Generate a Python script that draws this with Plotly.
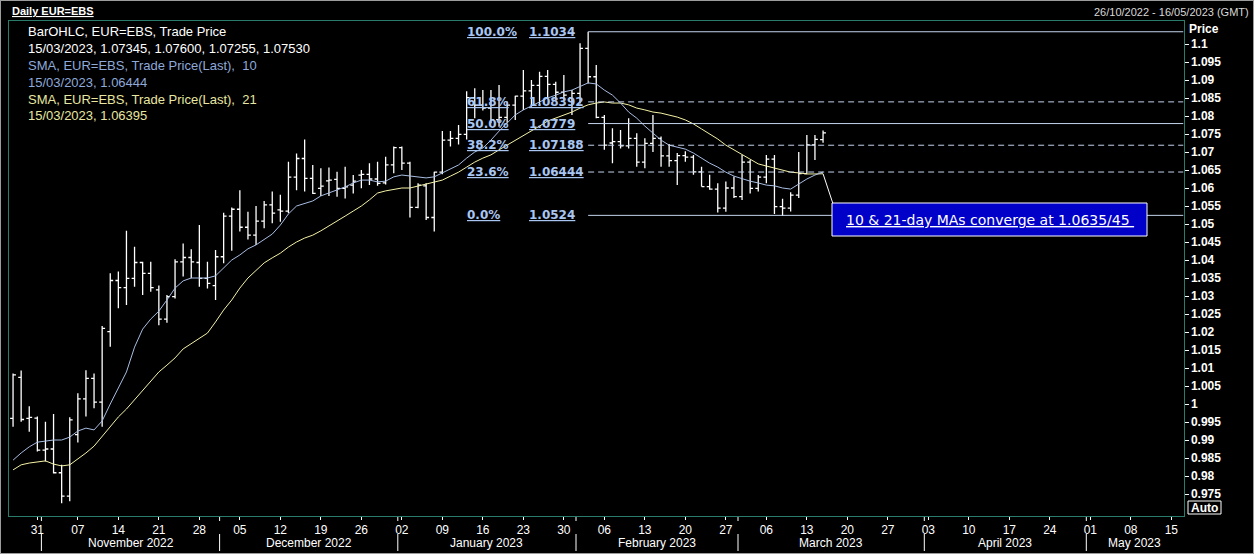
import plotly.graph_objects as go
import pandas as pd

W, H = 1254, 554


def px(x):
    return x / W


def py(y):
    return 1 - y / H


# ---------------- data ----------------
axis_days = pd.bdate_range("2022-10-26", "2023-05-16")   # trading-day axis

open_ = [
    0.9960, 1.0074, 0.9960,
    0.9961, 0.9872, 0.9875, 0.9809, 0.9744,
    0.9915, 1.0014, 1.0071, 1.0005, 1.0201,
    1.0343, 1.0323, 1.0349, 1.0393, 1.0363,
    1.0317, 1.0236, 1.0298, 1.0395, 1.0407,
    1.0393, 1.0349, 1.0329, 1.0409, 1.0522,
    1.0541, 1.0491, 1.0469, 1.0508, 1.0553,
    1.0539, 1.0536, 1.0630, 1.0682, 1.0627,
    1.0599, 1.0620, 1.0624, 1.0599, 1.0608,
    1.0636, 1.0638, 1.0625, 1.0614, 1.0664,
    1.0712, 1.0669, 1.0546, 1.0606, 1.0518,
    1.0644, 1.0733, 1.0738, 1.0749, 1.0851,
    1.0830, 1.0822, 1.0790, 1.0796, 1.0830,
    1.0855, 1.0870, 1.0885, 1.0910, 1.0888,
    1.0866, 1.0850, 1.0863, 1.0988, 1.0909,
    1.0796, 1.0725, 1.0729, 1.0717, 1.0738,
    1.0672, 1.0724, 1.0738, 1.0689, 1.0676,
    1.0690, 1.0686, 1.0645, 1.0604, 1.0597,
    1.0544, 1.0600, 1.0576, 1.0672, 1.0599,
    1.0630, 1.0680, 1.0548, 1.0544, 1.0580,
    1.0640, 1.0720, 1.07345,
]
high = [
    1.0085, 1.0093, 0.9994,
    0.9965, 0.9951, 0.9972, 0.9831, 0.9963,
    1.0030, 1.0094, 1.0085, 1.0217, 1.0363,
    1.0368, 1.0481, 1.0437, 1.0395, 1.0395,
    1.0329, 1.0303, 1.0402, 1.0446, 1.0430,
    1.0497, 1.0395, 1.0428, 1.0531, 1.0546,
    1.0594, 1.0534, 1.0550, 1.0564, 1.0590,
    1.0581, 1.0673, 1.0696, 1.0735, 1.0664,
    1.0655, 1.0657, 1.0645, 1.0659, 1.0636,
    1.0650, 1.0669, 1.0673, 1.0687, 1.0715,
    1.0715, 1.0673, 1.0613, 1.0613, 1.0645,
    1.0758, 1.0758, 1.0775, 1.0869, 1.0877,
    1.0872, 1.0872, 1.0886, 1.0840, 1.0856,
    1.0928, 1.0900, 1.0923, 1.0928, 1.0895,
    1.0914, 1.0872, 1.1002, 1.1034, 1.0942,
    1.0803, 1.0766, 1.0761, 1.0794, 1.0752,
    1.0738, 1.0803, 1.0743, 1.0722, 1.0697,
    1.0702, 1.0692, 1.0659, 1.0637, 1.0613,
    1.0618, 1.0632, 1.0692, 1.0678, 1.0636,
    1.0692, 1.0692, 1.0570, 1.0588, 1.0700,
    1.0747, 1.0747, 1.07600,
]
low = [
    0.9937, 0.9951, 0.9923,
    0.9868, 0.9840, 0.9807, 0.9724, 0.9730,
    0.9893, 0.9965, 0.9988, 0.9937, 1.0159,
    1.0266, 1.0275, 1.0326, 1.0303, 1.0312,
    1.0219, 1.0226, 1.0293, 1.0354, 1.0349,
    1.0326, 1.0321, 1.0289, 1.0391, 1.0426,
    1.0479, 1.0457, 1.0442, 1.0488, 1.0502,
    1.0506, 1.0530, 1.0594, 1.0590, 1.0583,
    1.0578, 1.0578, 1.0576, 1.0571, 1.0585,
    1.0599, 1.0608, 1.0606, 1.0610, 1.0641,
    1.0650, 1.0518, 1.0544, 1.0511, 1.0479,
    1.0638, 1.0715, 1.0721, 1.0735, 1.0794,
    1.0815, 1.0780, 1.0770, 1.0780, 1.0789,
    1.0817, 1.0826, 1.0831, 1.0849, 1.0845,
    1.0845, 1.0803, 1.0835, 1.0890, 1.0794,
    1.0706, 1.0669, 1.0710, 1.0710, 1.0659,
    1.0655, 1.0700, 1.0659, 1.0659, 1.0608,
    1.0673, 1.0637, 1.0604, 1.0595, 1.0532,
    1.0534, 1.0572, 1.0567, 1.0585, 1.0590,
    1.0613, 1.0528, 1.0522, 1.0535, 1.0572,
    1.0640, 1.0678, 1.07255,
]
close = [
    1.0081, 0.9957, 0.9963,
    0.9872, 0.9875, 0.9809, 0.9744, 0.9956,
    1.0014, 1.0071, 1.0005, 1.0210, 1.0343,
    1.0323, 1.0349, 1.0393, 1.0363, 1.0323,
    1.0236, 1.0298, 1.0395, 1.0407, 1.0395,
    1.0349, 1.0335, 1.0409, 1.0522, 1.0541,
    1.0491, 1.0469, 1.0508, 1.0553, 1.0530,
    1.0536, 1.0630, 1.0682, 1.0627, 1.0585,
    1.0605, 1.0622, 1.0599, 1.0603, 1.0619,
    1.0638, 1.0625, 1.0613, 1.0664, 1.0712,
    1.0669, 1.0546, 1.0608, 1.0518, 1.0644,
    1.0733, 1.0738, 1.0749, 1.0851, 1.0830,
    1.0822, 1.0790, 1.0796, 1.0830, 1.0855,
    1.0870, 1.0885, 1.0910, 1.0888, 1.0866,
    1.0858, 1.0863, 1.0988, 1.0909, 1.0796,
    1.0719, 1.0729, 1.0717, 1.0738, 1.0672,
    1.0724, 1.0738, 1.0689, 1.0676, 1.0690,
    1.0686, 1.0645, 1.0604, 1.0597, 1.0544,
    1.0600, 1.0576, 1.0672, 1.0599, 1.0630,
    1.0680, 1.0548, 1.0544, 1.0580, 1.0640,
    1.0720, 1.0735, 1.07530,
]
sma10 = [
    0.9844, 0.9864, 0.9881,
    0.9894, 0.9897, 0.9900, 0.9900, 0.9908,
    0.9925, 0.9933, 0.9928, 0.9953, 1.0000,
    1.0044, 1.0089, 1.0158, 1.0208, 1.0236,
    1.0258, 1.0289, 1.0322, 1.0342, 1.0350,
    1.0350, 1.0350, 1.0356, 1.0378, 1.0400,
    1.0414, 1.0431, 1.0442, 1.0456, 1.0472,
    1.0497, 1.0528, 1.0550, 1.0556, 1.0564,
    1.0578, 1.0586, 1.0594, 1.0603, 1.0614,
    1.0622, 1.0622, 1.0617, 1.0619, 1.0631,
    1.0636, 1.0633, 1.0631, 1.0628, 1.0631,
    1.0642, 1.0653, 1.0664, 1.0683, 1.0700,
    1.0711, 1.0733, 1.0758, 1.0781, 1.0803,
    1.0817, 1.0828, 1.0839, 1.0850, 1.0858,
    1.0867, 1.0872, 1.0881, 1.0892, 1.0889,
    1.0872, 1.0858, 1.0836, 1.0811, 1.0794,
    1.0772, 1.0753, 1.0733, 1.0719, 1.0714,
    1.0708, 1.0697, 1.0683, 1.0669, 1.0658,
    1.0644, 1.0633, 1.0625, 1.0619, 1.0614,
    1.0608, 1.0606, 1.0600, 1.0597, 1.0611,
    1.0625, 1.0636, 1.06444,
]
sma21 = [
    0.9817, 0.9831, 0.9836,
    0.9839, 0.9842, 0.9833, 0.9828, 0.9831,
    0.9847, 0.9864, 0.9883, 0.9911, 0.9939,
    0.9964, 0.9986, 1.0011, 1.0039, 1.0061,
    1.0089, 1.0108, 1.0128, 1.0153, 1.0167,
    1.0183, 1.0197, 1.0228, 1.0261, 1.0289,
    1.0322, 1.0350, 1.0372, 1.0392, 1.0406,
    1.0419, 1.0436, 1.0450, 1.0461, 1.0469,
    1.0481, 1.0494, 1.0508, 1.0522, 1.0536,
    1.0550, 1.0567, 1.0586, 1.0592, 1.0597,
    1.0600, 1.0600, 1.0606, 1.0611, 1.0617,
    1.0622, 1.0633, 1.0644, 1.0658, 1.0672,
    1.0683, 1.0692, 1.0706, 1.0719, 1.0733,
    1.0744, 1.0758, 1.0772, 1.0786, 1.0794,
    1.0803, 1.0811, 1.0822, 1.0831, 1.0836,
    1.0839, 1.0836, 1.0836, 1.0831, 1.0822,
    1.0817, 1.0811, 1.0808, 1.0803, 1.0797,
    1.0789, 1.0778, 1.0764, 1.0750, 1.0736,
    1.0719, 1.0706, 1.0692, 1.0678, 1.0667,
    1.0661, 1.0656, 1.0650, 1.0644, 1.0642,
    1.0639, 1.0639, 1.06395,
]

fib_pct = ["100.0%", "61.8%", "50.0%", "38.2%", "23.6%", "0.0%"]
fib_val = ["1.1034", "1.08392", "1.0779", "1.07188", "1.06444", "1.0524"]
fib_dashed = [False, True, False, True, True, False]
fib_anchor_day = 71          # Feb 2 2023 (swing high bar)

y_tick_labels = ["0.975", "0.98", "0.985", "0.99", "0.995", "1", "1.005", "1.01",
                 "1.015", "1.02", "1.025", "1.03", "1.035", "1.04", "1.045", "1.05",
                 "1.055", "1.06", "1.065", "1.07", "1.075", "1.08", "1.085", "1.09",
                 "1.095", "1.1"]

legend_lines = [
    ("BarOHLC, EUR=EBS, Trade Price", "#ffffff"),
    ("15/03/2023, 1.07345, 1.07600, 1.07255, 1.07530", "#ffffff"),
    ("SMA, EUR=EBS, Trade Price(Last),  10", "#8ea9da"),
    ("15/03/2023, 1.06444", "#8ea9da"),
    ("SMA, EUR=EBS, Trade Price(Last),  21", "#e8e6a0"),
    ("15/03/2023, 1.06395", "#e8e6a0"),
]

# ---------------- derived positions ----------------
n = len(close)
idx = list(range(n))
n_axis = len(axis_days)
mondays = [i for i, d in enumerate(axis_days) if d.weekday() == 0]
monday_txt = [axis_days[i].strftime("%d") for i in mondays]

# month boundaries / labels
month_start = [i for i in range(1, n_axis) if axis_days[i].month != axis_days[i - 1].month]
bounds = [-0.5] + [i - 0.5 for i in month_start] + [n_axis - 0.5]
month_labels = []
for a, b in zip(bounds[:-1], bounds[1:]):
    if b - a < 10:
        continue
    d = axis_days[int(a + 1)]
    month_labels.append(((a + b) / 2, d.strftime("%B %Y")))

C_SMA10 = "#a8bde3"
C_SMA21 = "#f4f2a6"
C_FIB = "#c3d3ec"
C_FIBTXT = "#a9c6f2"
C_FRAME = "#2b7b6d"

fig = go.Figure()

fig.add_trace(go.Scatter(x=idx, y=sma21, mode="lines",
                         line=dict(color=C_SMA21, width=1), hoverinfo="skip"))
fig.add_trace(go.Scatter(x=idx, y=sma10, mode="lines",
                         line=dict(color=C_SMA10, width=1), hoverinfo="skip"))
fig.add_trace(go.Ohlc(x=idx, open=open_, high=high, low=low, close=close,
                      increasing=dict(line=dict(color="#ffffff", width=1.3)),
                      decreasing=dict(line=dict(color="#ffffff", width=1.3)),
                      tickwidth=0.36, hoverinfo="skip"))
# last-value markers on the price scale
fig.add_trace(go.Scatter(x=[n_axis - 0.2], y=[close[-1]], mode="markers",
                         marker=dict(symbol="diamond", size=8, color="#ffffff"),
                         cliponaxis=False, hoverinfo="skip"))
fig.add_trace(go.Scatter(x=[n_axis - 0.2], y=[sma21[-1]], mode="markers",
                         marker=dict(symbol="circle", size=7, color="#f0ec8c"),
                         cliponaxis=False, hoverinfo="skip"))

shapes = []
annotations = []

# Fibonacci retracement lines + labels
for pct, val, dashed in zip(fib_pct, fib_val, fib_dashed):
    v = float(val)
    shapes.append(dict(type="line", xref="x", yref="y", x0=fib_anchor_day, x1=n_axis - 0.5,
                       y0=v, y1=v,
                       line=dict(color=C_FIB, width=1, dash="6px,4px" if dashed else "solid")))
    annotations.append(dict(xref="paper", yref="y", x=px(465), y=v, xanchor="left",
                            yanchor="middle", showarrow=False,
                            text="<u>" + pct + "</u>",
                            font=dict(family="DejaVu Sans", size=12, color=C_FIBTXT, weight="bold")))
    annotations.append(dict(xref="paper", yref="y", x=px(527), y=v, xanchor="left",
                            yanchor="middle", showarrow=False,
                            text="<u>" + val + "</u>",
                            font=dict(family="DejaVu Sans", size=12, color=C_FIBTXT, weight="bold")))

# month separators and ticks
for b in bounds[1:-1]:
    shapes.append(dict(type="line", xref="x", yref="paper", x0=b, x1=b,
                       y0=py(517), y1=py(521), line=dict(color="#ffffff", width=1)))
    shapes.append(dict(type="line", xref="x", yref="paper", x0=b, x1=b,
                       y0=py(534), y1=py(551), line=dict(color="#ffffff", width=1)))
for xm, txt in month_labels:
    annotations.append(dict(xref="x", yref="paper", x=xm, y=py(542.5), text=txt,
                            showarrow=False, xanchor="center", yanchor="middle",
                            font=dict(family="Liberation Sans", size=12, color="#ffffff")))

# callout box
shapes.append(dict(type="line", xref="x", yref="y", x0=n - 1, y0=sma21[-1],
                   x1=n + 0.2, y1=1.0558, line=dict(color="#ffffff", width=1)))
shapes.append(dict(type="rect", xref="paper", yref="paper", x0=px(832), x1=px(1147),
                   y0=py(236), y1=py(203), fillcolor="#0000c8",
                   line=dict(color="#ffffff", width=1)))
annotations.append(dict(xref="paper", yref="paper", x=px(989.5), y=py(219.5),
                        text="<u>10 & 21-day MAs converge at 1.0635/45 </u>",
                        showarrow=False, xanchor="center", yanchor="middle",
                        font=dict(family="DejaVu Sans", size=14, color="#ffffff")))

# legend text block
for k, (txt, col) in enumerate(legend_lines):
    annotations.append(dict(xref="paper", yref="paper", x=px(26), y=py(31.5 + 16.9 * k),
                            text=txt, showarrow=False, xanchor="left", yanchor="middle",
                            font=dict(family="Liberation Sans", size=13, color=col)))

# header
annotations.append(dict(xref="paper", yref="paper", x=px(10), y=py(11), text="<u>Daily EUR=EBS</u>",
                        showarrow=False, xanchor="left", yanchor="middle",
                        font=dict(family="Liberation Sans", size=11, color="#ffffff", weight="bold")))
annotations.append(dict(xref="paper", yref="paper", x=px(1251), y=py(12),
                        text="26/10/2022 - 16/05/2023 (GMT)",
                        showarrow=False, xanchor="right", yanchor="middle",
                        font=dict(family="Liberation Sans", size=11, color="#d8d8d8")))
annotations.append(dict(xref="paper", yref="paper", x=px(1187), y=py(29), text="Price",
                        showarrow=False, xanchor="left", yanchor="middle",
                        font=dict(family="Liberation Sans", size=12, color="#ffffff", weight="bold")))
# "Auto" button
shapes.append(dict(type="rect", xref="paper", yref="paper", x0=px(1188), x1=px(1221),
                   y0=py(514), y1=py(501), line=dict(color="#ffffff", width=1),
                   fillcolor="#000000"))
annotations.append(dict(xref="paper", yref="paper", x=px(1204.5), y=py(507.5), text="Auto",
                        showarrow=False, xanchor="center", yanchor="middle",
                        font=dict(family="Liberation Sans", size=12, color="#ffffff", weight="bold")))
# outer frame
shapes.append(dict(type="rect", xref="paper", yref="paper", x0=0, x1=1, y0=0, y1=1,
                   line=dict(color="#9c9c9c", width=2)))

fig.update_layout(
    width=W, height=H,
    margin=dict(l=0, r=0, t=0, b=0),
    paper_bgcolor="#000000", plot_bgcolor="#000000",
    showlegend=False,
    shapes=shapes, annotations=annotations,
    xaxis=dict(domain=[px(9), px(1183.5)], range=[-0.5, n_axis - 0.5],
               showgrid=False, zeroline=False, rangeslider=dict(visible=False),
               tickmode="array", tickvals=mondays, ticktext=monday_txt,
               ticks="outside", ticklen=3, tickcolor="#ffffff",
               tickfont=dict(family="Liberation Sans", size=12, color="#ffffff"),
               showline=True, mirror=True, linecolor=C_FRAME, linewidth=1,
               fixedrange=True),
    yaxis=dict(domain=[py(516), py(21)], side="right",
               range=[1.1 - (516 - 44) / 3600, 1.1 + (44 - 21) / 3600],
               showgrid=False, zeroline=False,
               tickmode="array", tickvals=[float(t) for t in y_tick_labels],
               ticktext=y_tick_labels,
               ticks="outside", ticklen=4, tickcolor="#ffffff",
               tickfont=dict(family="Liberation Sans", size=12, color="#ffffff", weight="bold"),
               showline=True, mirror=True, linecolor=C_FRAME, linewidth=1,
               fixedrange=True),
)

fig.write_html("out.html",
               config={"displayModeBar": False, "staticPlot": True},
               post_script="document.body.style.margin='0';document.body.style.overflow='hidden';"
                           "document.body.style.background='#000';")
